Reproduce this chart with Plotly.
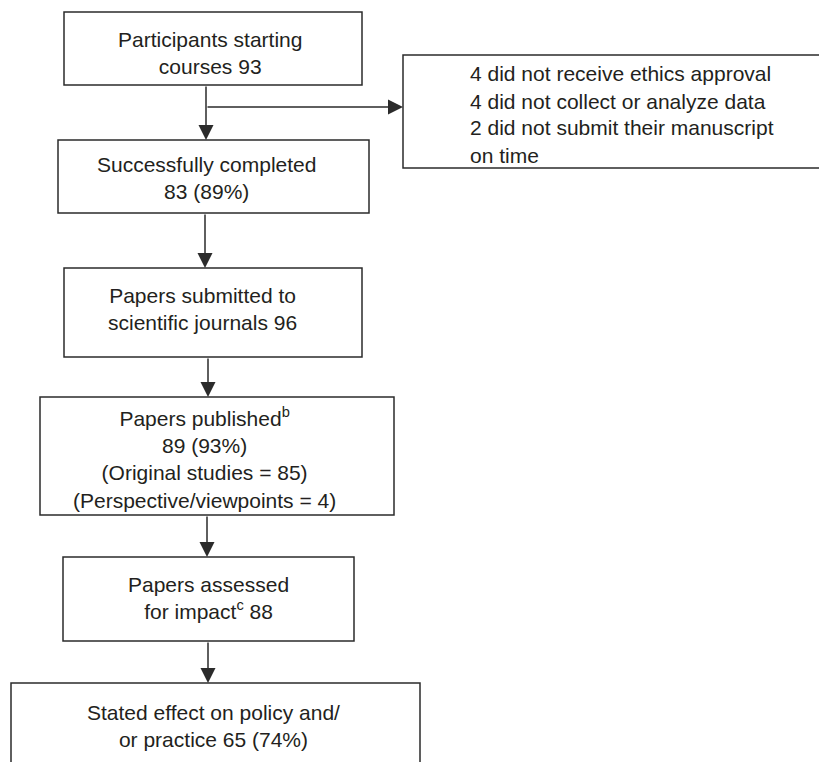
import plotly.graph_objects as go

# ---- content (text of the flowchart) ----
box_texts = [
    "Participants starting<br>courses 93",
    "Successfully completed<br>83 (89%)",
    "Papers submitted to<br>scientific journals 96",
    "Papers published<sup>b</sup><br>89 (93%)<br>(Original studies = 85)<br>(Perspective/viewpoints = 4)",
    "Papers assessed<br>for impact<sup>c</sup> 88",
    "Stated effect on policy and/<br>or practice 65 (74%)",
]
excluded_lines = [
    "4 did not receive ethics approval",
    "4 did not collect or analyze data",
    "2 did not submit their manuscript",
    "on time",
]

# ---- layout geometry (pixels in an 827x762 canvas, y downward) ----
W, H = 827, 762
PAGE_OFFSET = 8  # default body margin of the html page
boxes = [  # x0, y0, x1, y1
    (64, 12, 362, 85),
    (58, 140, 369, 213),
    (64, 268, 362, 357),
    (40, 397, 394, 515),
    (63, 557, 354, 641),
    (11, 683, 420, 790),
]
text_pos = [(210, 53), (206, 178), (202, 309), (204, 458), (208, 598), (213, 726)]
side_box = (403, 55, 850, 168)
side_text_x = 468
side_text_y = [73, 101, 127, 155]
arrows = [  # tail x, tail y, head x, head y
    (206, 85, 206, 140),
    (206, 107, 403, 107),
    (205, 213, 205, 268),
    (208, 357, 208, 397),
    (207, 515, 207, 557),
    (208, 641, 208, 683),
]

LINE = "#2b2b2b"
TXT = "#231f20"
FONT = "Liberation Sans, Arial, sans-serif"
FS = 21

fig = go.Figure()
shapes = []
for (x0, y0, x1, y1) in boxes + [side_box]:
    shapes.append(dict(type="rect", xref="x", yref="y", x0=x0, y0=y0, x1=x1, y1=y1,
                       line=dict(color=LINE, width=1.5), fillcolor="rgba(0,0,0,0)"))

annotations = []
for txt, (tx, ty) in zip(box_texts, text_pos):
    annotations.append(dict(x=tx, y=ty, xref="x", yref="y", text=txt, showarrow=False,
                            font=dict(family=FONT, size=FS, color=TXT),
                            xanchor="center", yanchor="middle", align="center"))
for line, ly in zip(excluded_lines, side_text_y):
    annotations.append(dict(x=side_text_x, y=ly, xref="x", yref="y", text=line, showarrow=False,
                            font=dict(family=FONT, size=FS, color=TXT),
                            xanchor="left", yanchor="middle", align="left"))
for (ax, ay, hx, hy) in arrows:
    annotations.append(dict(x=hx, y=hy, ax=ax, ay=ay, xref="x", yref="y", axref="x", ayref="y",
                            text="", showarrow=True, arrowhead=2, arrowsize=2.0,
                            arrowwidth=1.5, arrowcolor=LINE, standoff=0, startstandoff=0))

fig.update_layout(
    width=W, height=H,
    margin=dict(l=0, r=0, t=0, b=0),
    paper_bgcolor="white", plot_bgcolor="white",
    xaxis=dict(range=[PAGE_OFFSET, W + PAGE_OFFSET], visible=False, fixedrange=True),
    yaxis=dict(range=[H + PAGE_OFFSET, PAGE_OFFSET], visible=False, fixedrange=True),
    shapes=shapes, annotations=annotations, showlegend=False,
)
fig.write_html("out.html")
